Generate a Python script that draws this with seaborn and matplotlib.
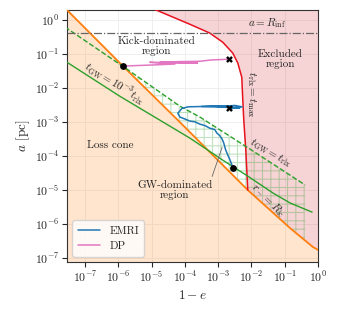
import matplotlib
matplotlib.use("Agg")
import matplotlib.pyplot as plt
import matplotlib.ticker as mticker
import numpy as np
import pandas as pd
import seaborn as sns

# values, stored as log10(1-e), log10(a/pc)
loss_cone_x = [-7.6, -5.86, -4.15, -2.11, -0.84, -0.15, 0.0]
loss_cone_y = [0.36, -1.35, -3.00, -5.00, -6.12, -6.68, -6.76]

tmax_x = [-4.95, -4.84, -3.85, -3.25, -2.86, -2.56, -2.41, -2.29, -2.26, -2.23, -2.17, -2.11]
tmax_y = [0.33, 0.29, -0.12, -0.38, -0.65, -0.97, -1.26, -1.68, -2.35, -2.94, -3.82, -5.00]

gw_rlx_x = [-7.6, -5.74, -4.15, -3.55, -2.05, -0.39]
gw_rlx_y = [-0.20, -1.44, -2.53, -2.85, -3.79, -4.85]

gw_1e3_x = [-7.6, -5.95, -3.85, -2.86, -2.11, -1.35, -0.84, -0.18]
gw_1e3_y = [-1.20, -2.24, -3.47, -4.12, -4.59, -5.09, -5.38, -5.65]

r_inf = -0.38

emri_x = [-2.68, -2.28, -2.50, -3.00, -2.35, -3.50, -2.60, -3.90, -4.09, -4.21, -4.15,
          -4.02, -3.85, -3.70, -3.55, -3.40, -3.25, -3.10, -3.04, -2.95, -2.88, -2.83,
          -2.78, -2.72, -2.65, -2.56]
emri_y = [-2.59, -2.55, -2.51, -2.55, -2.58, -2.54, -2.52, -2.55, -2.60, -2.74, -2.85,
          -2.90, -2.97, -2.99, -3.06, -3.10, -3.18, -3.22, -3.32, -3.40, -3.50, -3.62,
          -3.80, -3.95, -4.10, -4.33]

dp_x = [-2.68, -3.20, -3.55, -4.20, -4.75, -3.62, -4.50, -5.05, -4.30, -4.99, -5.86]
dp_y = [-1.15, -1.17, -1.21, -1.22, -1.24, -1.26, -1.25, -1.24, -1.29, -1.32, -1.35]

start_x = [-2.68, -2.68]
start_y = [-2.59, -1.15]
end_x = [-2.56, -5.86]
end_y = [-4.34, -1.35]

decades = list(range(-7, 1))

sns.set_theme(style="ticks", palette="tab10")
plt.rcParams["font.family"] = "serif"
plt.rcParams["font.serif"] = ["cmr10", "DejaVu Serif"]
plt.rcParams["mathtext.fontset"] = "cm"
plt.rcParams["axes.formatter.use_mathtext"] = True
plt.rcParams["hatch.linewidth"] = 0.8

blue, orange, green, red, pink = "#1f77b4", "#ff7f0e", "#2ca02c", "#e8121f", "#e377c2"

p = lambda v: 10.0 ** np.asarray(v)

xmin, xmax = 10 ** -7.54, 1.0
ymin, ymax = 10 ** -7.12, 10 ** 0.3

fig = plt.figure(figsize=(3.38, 3.12), dpi=100)
ax = fig.add_axes([0.198, 0.16, 0.743, 0.808])
ax.set_xscale("log")
ax.set_yscale("log")
ax.grid(True, color="0.93", lw=0.6, zorder=0)

# loss cone (below orange line)
ax.fill_between(p(loss_cone_x), p(loss_cone_y), ymin * 0.1, color=orange, alpha=0.2, lw=0, zorder=1)

# excluded region (right of red curve, above loss cone)
ex_x = list(tmax_x) + [-0.84, -0.15, 0.0, 0.0, tmax_x[0]]
ex_y = list(tmax_y) + [-6.12, -6.68, -6.76, 0.5, 0.5]
ax.fill(p(ex_x), p(ex_y), color="#d62728", alpha=0.2, lw=0, zorder=1)

# hatched GW region between t_GW = t_rlx and loss cone
gx = np.linspace(-5.74, -0.39, 200)
top = np.interp(gx, gw_rlx_x, gw_rlx_y)
bot = np.interp(gx, loss_cone_x, loss_cone_y)
hx = np.concatenate([gx, gx[::-1]])
hy = np.concatenate([top, bot[::-1]])
ax.fill(p(hx), p(hy), facecolor="none", edgecolor=(0.17, 0.63, 0.17, 0.3), hatch="++", lw=0, zorder=2)

ax.plot(p(loss_cone_x), p(loss_cone_y), color=orange, lw=1.3, zorder=3)
ax.plot(p(tmax_x), p(tmax_y), color=red, lw=1.1, zorder=3)
ax.plot(p(gw_rlx_x), p(gw_rlx_y), color=green, lw=1.0, ls="--", zorder=3)
ax.plot(p(gw_1e3_x), p(gw_1e3_y), color=green, lw=1.0, zorder=3)
ax.axhline(p(r_inf), color="0.4", lw=0.9, ls="-.", zorder=3)

emri = pd.DataFrame({"x": p(emri_x), "y": p(emri_y)})
dp = pd.DataFrame({"x": p(dp_x), "y": p(dp_y)})
sns.lineplot(data=emri, x="x", y="y", sort=False, estimator=None, color=blue, lw=1.1, ax=ax, label="EMRI", zorder=4)
sns.lineplot(data=dp, x="x", y="y", sort=False, estimator=None, color=pink, lw=1.1, ax=ax, label="DP", zorder=4)
ax.scatter(p(start_x), p(start_y), marker="X", s=24, color="k", lw=0, zorder=5)
ax.scatter(p(end_x), p(end_y), marker="o", s=24, color="k", lw=0, zorder=5)

fs = 8
ax.text(p(-4.84), p(-0.76), "Kick-dominated\nregion", ha="center", va="center", fontsize=fs, linespacing=1.05)
ax.text(p(-1.14), p(-1.15), "Excluded\nregion", ha="center", va="center", fontsize=fs, linespacing=1.05)
ax.text(p(-1.53), p(-0.08), r"$a = R_{\rm inf}$", ha="center", va="center", fontsize=fs)
ax.text(p(-2.0), p(-2.2), r"$t_{\rm rlx} = t_{\rm max}$", ha="center", va="center", fontsize=fs, rotation=-90)
ax.text(p(-6.25), p(-3.68), "Loss cone", ha="center", va="center", fontsize=fs)
ax.text(p(-4.3), p(-5.0), "GW-dominated\nregion", ha="center", va="center", fontsize=fs, linespacing=1.05)
ax.plot(p([-3.18, -2.88]), p([-4.6, -3.74]), color="0.4", lw=0.6, zorder=4)
ax.text(p(-1.42), p(-3.9), r"$t_{\rm GW} = t_{\rm rlx}$", ha="center", va="center", fontsize=fs, rotation=-30)
ax.text(p(-1.5), p(-5.3), r"$r_- = R_{\rm lc}$", ha="center", va="center", fontsize=fs, rotation=-45)
ax.text(p(-6.1), p(-1.85), r"$t_{\rm GW} = 10^{-3}t_{\rm rlx}$", ha="center", va="center", fontsize=fs, rotation=-32)

ax.set_xlim(xmin, xmax)
ax.set_ylim(ymin, ymax)
ax.xaxis.set_major_locator(mticker.FixedLocator([10.0 ** d for d in decades]))
ax.yaxis.set_major_locator(mticker.FixedLocator([10.0 ** d for d in decades]))
ax.xaxis.set_major_formatter(mticker.LogFormatterSciNotation())
ax.yaxis.set_major_formatter(mticker.LogFormatterSciNotation())
ax.xaxis.set_minor_locator(mticker.NullLocator())
ax.yaxis.set_minor_locator(mticker.NullLocator())
ax.tick_params(labelsize=8.5, length=3.5, width=0.8, pad=2)
for s in ax.spines.values():
    s.set_linewidth(0.8)
    s.set_color("0.2")
ax.set_xlabel(r"$1 - e$", fontsize=9.5, labelpad=3)
ax.set_ylabel(r"$a$ [pc]", fontsize=9.5, labelpad=2)

ax.legend(loc="lower left", fontsize=fs, frameon=True, handlelength=2.0, borderpad=0.5)

fig.savefig("out.png", dpi=100)
